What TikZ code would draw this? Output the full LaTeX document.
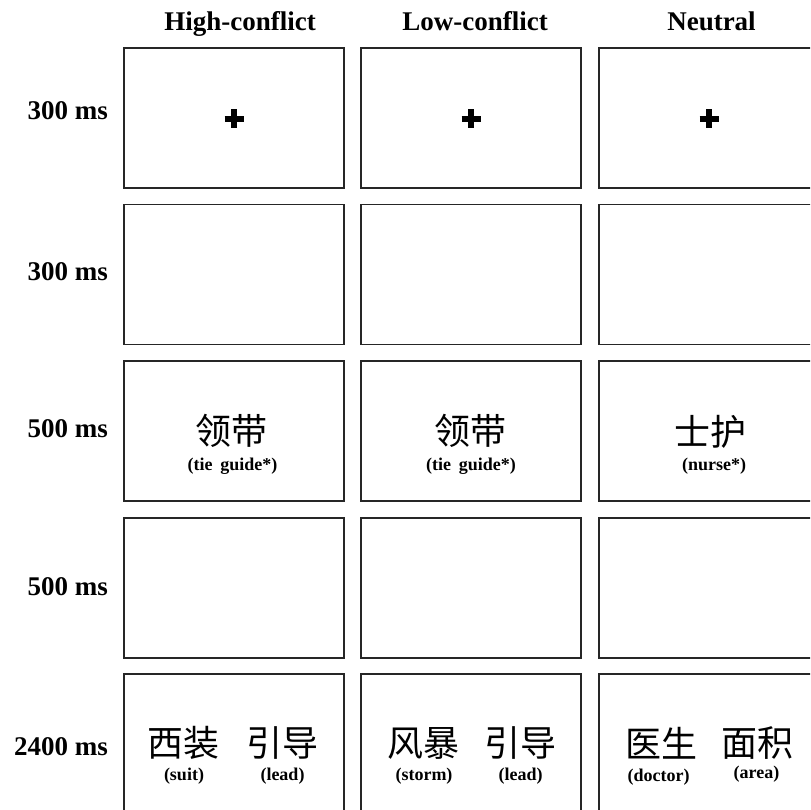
\documentclass[tikz,border=0pt]{standalone}
\usepackage{fontspec}
\setmainfont{Liberation Serif}
\newfontfamily\cjk{Noto Sans CJK SC}
\usetikzlibrary{calc}
\begin{document}
\begin{tikzpicture}[x=1pt,y=-1pt,
  stim/.style={draw=black!85, line width=1.4pt, minimum width=220pt, minimum height=140pt, inner sep=0pt, outer sep=0pt},
  head/.style={font=\fontsize{27}{30}\selectfont\bfseries, anchor=base, inner sep=0pt},
  dur/.style={font=\fontsize{27}{30}\selectfont\bfseries, anchor=base east, inner sep=0pt},
  word/.style={font=\cjk\fontsize{36}{40}\selectfont, inner sep=0pt},
  gloss/.style={font=\fontsize{18}{20}\selectfont\bfseries, inner sep=0pt},
  fix/.style={line width=6.5pt}]
\useasboundingbox (0,0) rectangle (810,810);
\clip (0,0) rectangle (810,810);
% boxes
\foreach \r/\y in {1/118,2/274.5,3/431,4/588,5/744}
  \foreach \c/\x in {1/234,2/471,3/709}
    \node[stim] (b\r\c) at (\x,\y) {};
% headers
\node[head] (h1) at (240,30.5) {High-conflict};
\node[head] (h2) at (475,30.5) {Low-conflict};
\node[head] (h3) at (711.5,30.5) {Neutral};
% durations
\node[dur] (d1) at (108,120) {300 ms};
\node[dur] (d2) at (108,280) {300 ms};
\node[dur] (d3) at (108,437.5) {500 ms};
\node[dur] (d4) at (108,595.5) {500 ms};
\node[dur] (d5) at (108,755) {2400 ms};
% fixation crosses
\foreach \c in {1,2,3}
  \draw[fix] ($(b1\c.center)+(-9.5,1)$) -- ++(19,0)
             ($(b1\c.center)+(0,-8.5)$) -- ++(0,19);
% primes
\node[word] (p1) at (231,431) {领带};
\node[gloss] (g1) at (232.5,466) {(tie\hspace{0.42em}guide*)};
\node[word] (p2) at (470,431) {领带};
\node[gloss] (g2) at (471,466) {(tie\hspace{0.42em}guide*)};
\node[word] (p3) at (710,431.5) {士护};
\node[gloss] (g3) at (714,466) {(nurse*)};
% targets
\node[word] (t11) at (183.5,743) {西装};
\node[word] (t12) at (282.5,743) {引导};
\node[gloss] (u11) at (184,776) {(suit)};
\node[gloss] (u12) at (282.5,776) {(lead)};
\node[word] (t21) at (423,743) {风暴};
\node[word] (t22) at (520.5,743) {引导};
\node[gloss] (u21) at (424,776) {(storm)};
\node[gloss] (u22) at (520.5,776) {(lead)};
\node[word] (t31) at (661,743) {医生};
\node[word] (t32) at (757.5,743) {面积};
\node[gloss] (u31) at (658.5,777.5) {(doctor)};
\node[gloss] (u32) at (756.5,774.5) {(area)};
\end{tikzpicture}
\end{document}
